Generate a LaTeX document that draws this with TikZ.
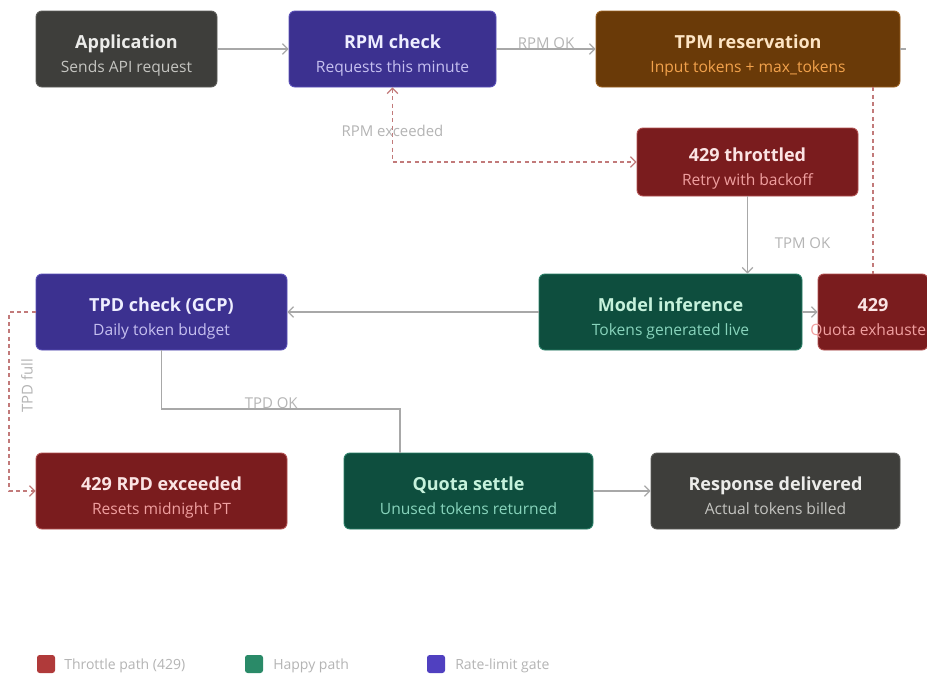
\documentclass[tikz,border=0pt]{standalone}
\usepackage{fontspec}
\setmainfont{Open Sans}
\usetikzlibrary{arrows.meta}

% palette: fill, outline, title, subtitle per kind
\definecolor{grayfill}{HTML}{3E3E3B}\definecolor{grayline}{HTML}{5C5C58}
\definecolor{graytitle}{HTML}{ECECEA}\definecolor{graysub}{HTML}{C4C4C0}
\definecolor{gatefill}{HTML}{3C3190}\definecolor{gateline}{HTML}{5A50B8}
\definecolor{gatetitle}{HTML}{EEEEFF}\definecolor{gatesub}{HTML}{C6C0F0}
\definecolor{tpmfill}{HTML}{6A3A08}\definecolor{tpmline}{HTML}{9A6020}
\definecolor{tpmtitle}{HTML}{FDE4C4}\definecolor{tpmsub}{HTML}{F2A24C}
\definecolor{redfill}{HTML}{7A1C1E}\definecolor{redline}{HTML}{B05050}
\definecolor{redtitle}{HTML}{FBE4E4}\definecolor{redsub}{HTML}{F0A0A0}
\definecolor{greenfill}{HTML}{0E4E3E}\definecolor{greenline}{HTML}{2A8068}
\definecolor{greentitle}{HTML}{C6F2DC}\definecolor{greensub}{HTML}{88D4BC}
\definecolor{wire}{HTML}{A8A8A8}
\definecolor{wirered}{HTML}{C27A7A}
\definecolor{lbltext}{HTML}{B4B4B4}
\definecolor{keyred}{HTML}{B03A3A}\definecolor{keygreen}{HTML}{2A8A68}\definecolor{keyblue}{HTML}{5040C0}

\tikzset{
  box/.style={rounded corners=4.5pt, fill=#1fill, draw=#1line, line width=0.7pt, inner sep=0pt},
  ttl/.style={text=#1title, font=\fontsize{13.5}{16}\selectfont\bfseries, anchor=base, inner sep=0pt},
  sub/.style={text=#1sub, font=\fontsize{11.7}{14}\selectfont, anchor=base, inner sep=0pt},
  tip/.style={-{Straight Barb[length=4pt,width=8pt]}},
  flow/.style={draw=wire, line width=0.9pt, tip},
  flowline/.style={draw=wire, line width=0.9pt},
  throttle/.style={draw=wirered, line width=0.9pt, dash pattern=on 3pt off 2.5pt},
  lbl/.style={text=lbltext, font=\fontsize{11.2}{13}\selectfont, inner sep=1pt},
  keysq/.style={rounded corners=2pt, minimum size=13.5pt, inner sep=0pt},
  keytxt/.style={text=lbltext, font=\fontsize{10.5}{12}\selectfont, anchor=west, inner sep=0pt},
}

% name, x, y, width, height, kind, title, subtitle  (all in px)
\newcommand\flowbox[8]{%
  \node[box=#6, minimum width=#4*0.75pt, minimum height=#5*0.75pt] (#1) at (#2,#3) {};
  \node[ttl=#6] (#1-title) at ([yshift=0.4pt]#1.center) {#7};
  \node[sub=#6] (#1-sub) at ([yshift=-17.6pt]#1.center) {#8};
}

\begin{document}
\begin{tikzpicture}[x=0.75pt, y=-0.75pt]
\fill[white] (0,0) rectangle (927,679);
\useasboundingbox (0,0) rectangle (927,679);

% boxes
\flowbox{app}{126.5}{49}{181}{76}{gray}{Application}{Sends API request}
\flowbox{rpm}{392.5}{49}{207}{76}{gate}{RPM check}{Requests this minute}
\flowbox{tpm}{748}{49}{304}{76}{tpm}{TPM reservation}{Input tokens + max\_tokens}
\flowbox{thr}{747.5}{162}{221}{68}{red}{429 throttled}{Retry with backoff}
\flowbox{model}{670.5}{312}{263}{76}{green}{Model inference}{Tokens generated live}
\flowbox{quota}{873}{312}{110}{76}{red}{429}{Quota exhausted}
\flowbox{tpd}{161.5}{312}{251}{76}{gate}{TPD check (GCP)}{Daily token budget}
\flowbox{rpd}{161.5}{491}{251}{76}{red}{429 RPD exceeded}{Resets midnight PT}
\flowbox{settle}{468.5}{491}{249}{76}{green}{Quota settle}{Unused tokens returned}
\flowbox{resp}{775.5}{491}{249}{76}{gray}{Response delivered}{Actual tokens billed}

% connectors
\draw[flow] (app.east) -- (rpm.west);
\draw[flow] (rpm.east) -- node[lbl, above=-1pt] (rpmok) {RPM OK} (tpm.west);
\coordinate (tpmout) at (906,49);
\draw[flowline] (tpm.east) -- (tpmout);

\draw[throttle, {Straight Barb[length=4pt,width=8pt]}-{Straight Barb[length=4pt,width=8pt]}]
  (rpm.south) |- node[lbl, pos=0.29] (rpmex) {RPM exceeded} (thr.west);

\draw[flow] (thr.south) -- node[lbl, pos=0.6, right=19pt] (tpmok) {TPM OK} (thr.south |- model.north);
\draw[throttle] (quota.north |- tpm.south) -- (quota.north);

\draw[flow] (model.west) -- (tpd.east);
\draw[flow] (model.east) -- (quota.west);

\coordinate (okturn) at (400,409);
\draw[flowline] (tpd.south) |- node[lbl, pos=0.73, above=-1pt] (tpdok) {TPD OK} (okturn) -- (okturn |- settle.north);

\coordinate (fullturn) at (9,312);
\draw[throttle, tip] (tpd.west) -- (fullturn) |- (rpd.west);
\node[lbl, rotate=90] (tpdfull) at (27,386) {TPD full};

\draw[flow] (settle.east) -- (resp.west);

% legend
\node[keysq, fill=keyred] (k1) at (46,664) {};
\node[keytxt] (k1t) at (64,666) {Throttle path (429)};
\node[keysq, fill=keygreen] (k2) at (254,664) {};
\node[keytxt] (k2t) at (273,666) {Happy path};
\node[keysq, fill=keyblue] (k3) at (436,664) {};
\node[keytxt] (k3t) at (455,666) {Rate-limit gate};
\end{tikzpicture}
\end{document}
